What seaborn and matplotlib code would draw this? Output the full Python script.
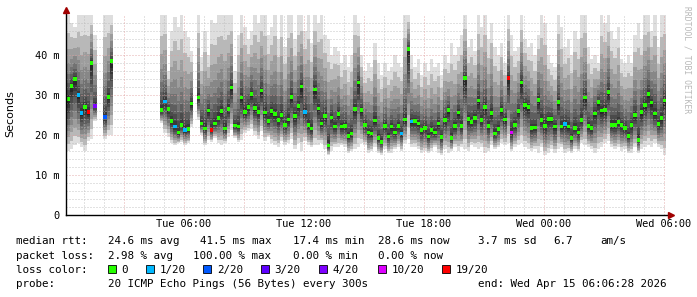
import numpy as np
import pandas as pd
import matplotlib
matplotlib.use("Agg")
import matplotlib.pyplot as plt
import seaborn as sns
from matplotlib.patches import Rectangle
from matplotlib.lines import Line2D

nan = float("nan")

# ---- data (10-minute samples, hours after Tue 00:00) ----
START_H = 0.05
STEP_H = 1.0 / 6.0

median_ms = [
    30.5, 29.0, 32.2, 34.0, 30.0, 25.5, 27.0, 25.7, 38.0, 27.3, nan, nan, 24.5, 29.5, 38.5,
    nan, nan, nan, nan, nan, nan, nan, nan, nan, nan, nan, nan, nan, nan,
    26.2, 28.4, 26.5, 23.5, 22.1, 20.6, 22.5, 21.2, 21.5, 27.9, nan, 29.4, 22.9, 21.6, 26.1,
    21.3, 22.9, 24.3, 26.0, 21.6, 26.5, 31.9, 22.4, 22.1, 29.4,
    25.8, 27.0, 30.2, 26.7, 25.8, 31.1, 25.6, 23.5, 26.0, 25.3, 23.8, 25.0, 22.5, 23.9, 29.5,
    24.8, 27.3, 32.1, 25.8, 22.5, 21.6, 31.4, 26.6, 22.9, 24.8,
    17.4, 24.4, 22.1, 25.3, 22.1, 22.3, 19.8, 20.4, 26.5, 33.1, 26.3, 22.5, 20.6, 20.4, 23.6,
    19.2, 18.3, 22.3, 19.6, 22.1, 20.6, 22.3, 20.4, 23.9, 41.5, 23.4,
    23.5, 22.9, 21.2, 21.7, 19.6, 21.2, 20.6, 22.9, 19.5, 23.8, 26.3, 19.3, 22.3, 25.6, 22.3,
    34.2, 24.0, 23.3, 24.3, 28.6, 23.8, 27.0, 22.3, 25.5, 20.4,
    21.5, 26.3, 23.9, 34.2, 20.6, 22.5, 26.0, 33.1, 27.5, 27.0, 21.7, 21.9, 28.8, 23.8, 22.3,
    24.0, 24.0, 22.1, 28.2, 22.1, 22.8, 22.1, 19.2, 21.7, 20.6,
    23.8, 29.4, 22.3, 21.7, 25.4, 28.3, 26.1, 26.3, 30.8, 22.5, 22.5, 23.3, 22.5, 21.7, 19.8,
    22.5, 25.0, 18.8, 25.7, 27.5, 30.3, 28.1, 25.4, 22.7, 24.2, 28.6,
]

min_ms = [
    17, 16, 16.5, 17.5, 18, 17, 16, 18.5, 19, 23.5, nan, nan, 19, 20, 20,
    nan, nan, nan, nan, nan, nan, nan, nan, nan, nan, nan, nan, nan, nan,
    23, 20.4, 19.6, 18, 17.5, 17.9, 18.3, 17.5, 17.9, 22, nan, 23.75, 20, 17.5, 18.75,
    18.3, 19.2, 17.9, 17.5, 17.9, 19.6, 21.25, 19.2, 18.3, 18.75,
    20.5, 21, 21.5, 20, 19, 21, 18.5, 19.5, 18, 17.5, 17, 18.5, 17.5, 18, 19,
    16.5, 18, 16, 18.5, 17.5, 17, 17.5, 17.5, 18, 16.5,
    15, 16, 17, 17, 17.5, 17, 15.5, 16, 16.5, 17, 18, 17.5, 15.5, 16, 17,
    15.5, 15, 16.5, 15.5, 15.5, 16.5, 17, 16, 18, 19, 17,
    17, 16.5, 15.5, 16, 15.5, 16, 17, 15.5, 15, 16.5, 15.5, 16, 17, 16, 17,
    16.5, 16, 17.5, 17, 16.5, 17, 15.5, 16, 17.5, 16.5,
    17, 18, 17.5, 18, 16, 17, 17.5, 18, 17, 16.5, 16, 16.5, 15.5, 17, 15,
    15.5, 16.5, 15.5, 16.5, 17, 15.5, 16, 15.5, 16.5, 16,
    18, 17.5, 17, 16.5, 15.5, 16.5, 17, 18, 18.5, 17, 16.5, 17, 16, 16.5, 15.5,
    15.5, 17, 15.5, 16.5, 17, 17.5, 17, 18, 17, 16.5, 15,
]

max_ms = [
    50, 50, 48, 47, 50, 50, 50, 50, 50, 45, nan, nan, 50, 50, 50,
    nan, nan, nan, nan, nan, nan, nan, nan, nan, nan, nan, nan, nan, nan,
    50, 50, 36, 46, 49.5, 47, 50, 46, 44.5, 41, nan, 50, 39.6, 46, 40,
    48.75, 48, 50, 50, 50, 50, 50, 36, 45, 50,
    47, 44, 46, 50, 48, 50, 50, 45, 47, 50, 44, 50, 42, 50, 50,
    44, 50, 50, 46, 50, 43, 50, 48, 50, 45,
    44, 40, 42, 41, 38, 40, 37, 40, 50, 48, 40, 36, 38, 37, 43,
    38, 35, 38, 36, 37, 40, 38, 37, 50, 50, 40,
    37, 39, 35, 38, 36, 39, 37, 38, 35, 40, 38, 43, 40, 42, 45,
    50, 42, 44, 41, 50, 47, 50, 44, 48, 42,
    40, 43, 38, 50, 45, 41, 42, 50, 44, 42, 43, 40, 45, 50, 48,
    40, 38, 37, 50, 47, 42, 44, 40, 46, 44,
    50, 50, 42, 39, 40, 38, 50, 48, 50, 46, 44, 47, 39, 38, 40,
    38, 45, 48, 44, 50, 50, 46, 50, 42, 50, 50,
]

loss_count = [0] * len(median_ms)
for idx, val in {0: 1, 4: 1, 5: 1, 7: 19, 9: 4, 12: 2, 30: 1, 33: 1, 36: 1, 44: 19,
                 72: 1, 101: 1, 104: 1, 133: 19, 134: 10, 150: 1}.items():
    loss_count[idx] = val

loss_levels = [0, 1, 2, 3, 4, 10, 19]
loss_labels = ["0", "1/20", "2/20", "3/20", "4/20", "10/20", "19/20"]
loss_colors = ["#26ff00", "#00b8ff", "#0059ff", "#5e00ff", "#7e00ff", "#dd00ff", "#ff0000"]

xtick_hours = [6, 12, 18, 24, 30]
xtick_labels = ["Tue 06:00", "Tue 12:00", "Tue 18:00", "Wed 00:00", "Wed 06:00"]
ytick_vals = [0, 10, 20, 30, 40]
ytick_labels = ["0", "10 m", "20 m", "30 m", "40 m"]

# ---- figure ----
W, H = 697, 297
fig = plt.figure(figsize=(W / 100, H / 100), dpi=100)
fig.patch.set_facecolor("white")

def fx(px):
    return px / W

def fy(py):
    return 1 - py / H

ax = fig.add_axes([fx(66), fy(215), 600 / W, 200 / H])
ax.set_facecolor("white")
ax.set_xlim(0.1, 30.1)
ax.set_ylim(0, 50)

n = len(median_ms)
hours = START_H + STEP_H * np.arange(n)
med = np.array(median_ms, float)
lo = np.array(min_ms, float)
hi = np.array(max_ms, float)
valid = ~np.isnan(med)

# smoke: 20 pings per sample approximated from min / median / max
k = np.arange(20)
up = np.clip((k - 9.5) / 9.5, 0, None) ** 2.2
dn = np.clip((9.5 - k) / 9.5, 0, None) ** 1.3
pings = med[:, None] + (hi - med)[:, None] * up[None, :] - (med - lo)[:, None] * dn[None, :]
jj = np.arange(10) / 9.0
grays = 0.87 - 0.78 * jj ** 0.75
for j in range(10):
    b = pings[valid, j]
    t = pings[valid, 19 - j]
    ax.bar(hours[valid], t - b, bottom=b, width=STEP_H * 0.98, color=str(grays[j]),
           linewidth=0, antialiased=False, zorder=1)

# grid (drawn over the smoke, as rrdtool does)
for v in np.arange(2, 50, 2):
    if v % 10 == 0:
        ax.axhline(v, color="#e0a0a0", lw=0.72, ls=(0, (1, 2)), alpha=0.85, zorder=2)
    else:
        ax.axhline(v, color="#b8b8b8", lw=0.72, ls=(0, (1, 2)), alpha=0.8, zorder=2)
for hh in range(1, 31):
    if hh % 3 == 0:
        ax.axvline(hh, color="#e0a0a0", lw=0.72, ls=(0, (1, 2)), alpha=0.85, zorder=2)
    else:
        ax.axvline(hh, color="#b8b8b8", lw=0.72, ls=(0, (1, 2)), alpha=0.8, zorder=2)

# medians coloured by loss
df = pd.DataFrame({"h": hours, "median": med,
                   "loss": [loss_labels[loss_levels.index(c)] for c in loss_count]})
df = df[valid]
sns.scatterplot(data=df, x="h", y="median", hue="loss",
                palette=dict(zip(loss_labels, loss_colors)), marker="s", s=6,
                linewidth=0, legend=False, ax=ax, zorder=3)

for s in ax.spines.values():
    s.set_visible(False)
ax.set_xlabel("")
ax.set_ylabel("")
mono = "DejaVu Sans Mono"
ax.set_xticks(xtick_hours)
ax.set_xticklabels(xtick_labels, family=mono, fontsize=7.4)
ax.set_yticks(ytick_vals)
ax.set_yticklabels(ytick_labels, family=mono, fontsize=7.4)
ax.tick_params(axis="x", length=0, pad=3.2)
ax.tick_params(axis="y", length=0, pad=4.6)

# axis lines with arrows
fig.add_artist(Line2D([fx(66), fx(66)], [fy(215), fy(12)], color="black", lw=1.0))
fig.add_artist(Line2D([fx(66), fx(669)], [fy(215), fy(215)], color="black", lw=1.0))
fig.add_artist(Line2D([fx(66)], [fy(10)], marker="^", color="#a00000", markersize=4, lw=0))
fig.add_artist(Line2D([fx(671)], [fy(215)], marker=">", color="#a00000", markersize=4, lw=0))

fig.text(fx(10.5), fy(114), "Seconds", rotation=90, ha="center", va="center",
         fontsize=8, family="DejaVu Sans")
fig.text(fx(687), fy(60), "RRDTOOL / TOBI OETIKER", rotation=270, ha="center", va="center",
         fontsize=5.8, family=mono, color="#b8b8b8")

# legend block
fs = 7.8
rows = [
    (244, [(16, "median rtt:"), (108.3, "24.6 ms avg"), (200, "41.5 ms max"),
           (293.3, "17.4 ms min"), (377.7, "28.6 ms now"), (478.3, "3.7 ms sd"),
           (553.3, "6.7"), (600, "am/s")]),
    (258.6, [(16, "packet loss:"), (108.3, "2.98 % avg"), (193.3, "100.00 % max"),
             (293.3, "0.00 % min"), (377.7, "0.00 % now")]),
    (272.8, [(16, "loss color:")]),
    (287, [(16, "probe:"), (108.3, "20 ICMP Echo Pings (56 Bytes) every 300s"),
           (478.3, "end: Wed Apr 15 06:06:28 2026")]),
]
for base, items in rows:
    for x, txt in items:
        fig.text(fx(x), fy(base), txt, ha="left", va="baseline", fontsize=fs, family=mono)

sq_x = [108, 145.7, 203.3, 261, 319, 377.7, 442.3]
for sx, lab, col in zip(sq_x, loss_labels, loss_colors):
    fig.add_artist(Rectangle((fx(sx), fy(273)), 8 / W, 8 / H, facecolor=col,
                             edgecolor="black", lw=0.6, transform=fig.transFigure))
    fig.text(fx(sx + 13.5), fy(272.8), lab, ha="left", va="baseline", fontsize=fs, family=mono)

fig.savefig("out.png", dpi=100, facecolor="white")
